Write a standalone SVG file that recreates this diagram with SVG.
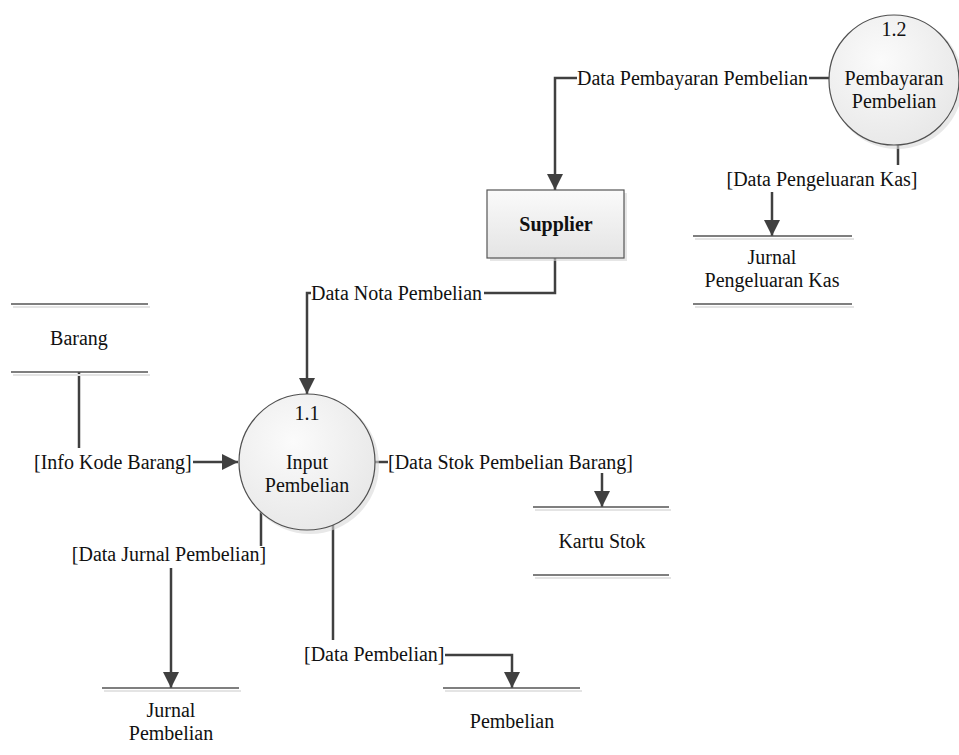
<svg xmlns="http://www.w3.org/2000/svg" width="959" height="755" viewBox="0 0 959 755" font-family="'Liberation Serif', 'DejaVu Serif', serif">
<style>
  text { font-family: 'Liberation Serif', 'DejaVu Serif', serif; font-size: 20px; fill: #111; }
  .mid { text-anchor: middle; }
  .bold { font-weight: bold; }
  .conn { fill: none; stroke: #404040; stroke-width: 2.5; }
  .arrow { marker-end: url(#ah); }
  .store { stroke: #555; stroke-width: 1.5; }
  .storeShadow { stroke: #e4e4e4; stroke-width: 2; }
  .proc { fill: url(#procFill); stroke: #505050; stroke-width: 1.2; }
  .shadow { fill: #d8d8d8; opacity: 0.6; }
</style>
<defs>
  <marker id="ah" markerUnits="userSpaceOnUse" viewBox="0 0 16 16" markerWidth="16" markerHeight="16" refX="16" refY="8" orient="auto">
    <path d="M0,0 L16,8 L0,16 z" fill="#404040"/>
  </marker>
  <radialGradient id="procFill" cx="0.4" cy="0.35" r="0.75">
    <stop offset="0" stop-color="#fbfbfb"/>
    <stop offset="1" stop-color="#e6e6e6"/>
  </radialGradient>
  <linearGradient id="boxFill" x1="0" y1="0" x2="0" y2="1">
    <stop offset="0" stop-color="#fafafa"/>
    <stop offset="1" stop-color="#e4e4e4"/>
  </linearGradient>
</defs>

<g id="connectors">
  <path class="conn" d="M829,78 L809,78"/>
  <path class="conn arrow" d="M577,78 L555,78 L555,190"/>
  <text x="577" y="85">Data Pembayaran Pembelian</text>
  <path class="conn" d="M898,145 L898,165"/>
  <text class="mid" x="822" y="186">[Data Pengeluaran Kas]</text>
  <path class="conn arrow" d="M772,192 L772,236"/>
  <path class="conn" d="M555,258 L555,293 L484,293"/>
  <path class="conn arrow" d="M311,293 L307,293 L307,394"/>
  <text x="311" y="300">Data Nota Pembelian</text>
  <path class="conn" d="M79,372 L79,448"/>
  <text x="34" y="469">[Info Kode Barang]</text>
  <path class="conn arrow" d="M193,462 L238,462"/>
  <path class="conn" d="M375,462 L388,462"/>
  <text x="388" y="469">[Data Stok Pembelian Barang]</text>
  <path class="conn arrow" d="M602,473 L602,507"/>
  <path class="conn" d="M261,512 L261,546"/>
  <text class="mid" x="169" y="561">[Data Jurnal Pembelian]</text>
  <path class="conn arrow" d="M171,568 L171,688"/>
  <path class="conn" d="M333,525 L333,640"/>
  <text x="304" y="661">[Data Pembelian]</text>
  <path class="conn arrow" d="M445,655 L512,655 L512,688"/>
</g>

<g id="proc-1-2">
  <circle class="shadow" cx="897" cy="83" r="66"/>
  <circle class="proc" cx="894" cy="80" r="65"/>
  <text class="mid" x="894" y="36">1.2</text>
  <text class="mid" x="894" y="85">Pembayaran</text>
  <text class="mid" x="894" y="108">Pembelian</text>
</g>

<g id="supplier">
  <rect x="490" y="193" width="137" height="68" fill="#d6d6d6" opacity="0.6"/>
  <rect x="487" y="190" width="137" height="68" fill="url(#boxFill)" stroke="#555" stroke-width="1.2"/>
  <text class="mid bold" x="556" y="231">Supplier</text>
</g>

<g id="jurnal-pengeluaran-kas">
  <line class="storeShadow" x1="695" y1="239" x2="854" y2="239"/>
  <line class="storeShadow" x1="695" y1="307" x2="854" y2="307"/>
  <line class="store" x1="693" y1="236" x2="852" y2="236"/>
  <line class="store" x1="693" y1="304" x2="852" y2="304"/>
  <text class="mid" x="772" y="264">Jurnal</text>
  <text class="mid" x="772" y="287">Pengeluaran Kas</text>
</g>

<g id="barang">
  <line class="storeShadow" x1="13" y1="307" x2="150" y2="307"/>
  <line class="storeShadow" x1="13" y1="375" x2="150" y2="375"/>
  <line class="store" x1="11" y1="304" x2="148" y2="304"/>
  <line class="store" x1="11" y1="372" x2="148" y2="372"/>
  <text class="mid" x="79" y="345">Barang</text>
</g>

<g id="proc-1-1">
  <circle class="shadow" cx="310" cy="465" r="69"/>
  <circle class="proc" cx="307" cy="462" r="68"/>
  <text class="mid" x="307" y="420">1.1</text>
  <text class="mid" x="307" y="469">Input</text>
  <text class="mid" x="307" y="492">Pembelian</text>
</g>

<g id="kartu-stok">
  <line class="storeShadow" x1="535" y1="510" x2="671" y2="510"/>
  <line class="storeShadow" x1="535" y1="578" x2="671" y2="578"/>
  <line class="store" x1="533" y1="507" x2="669" y2="507"/>
  <line class="store" x1="533" y1="575" x2="669" y2="575"/>
  <text class="mid" x="602" y="548">Kartu Stok</text>
</g>

<g id="jurnal-pembelian">
  <line class="storeShadow" x1="104" y1="691" x2="241" y2="691"/>
  <line class="store" x1="102" y1="688" x2="239" y2="688"/>
  <text class="mid" x="171" y="717">Jurnal</text>
  <text class="mid" x="171" y="740">Pembelian</text>
</g>

<g id="pembelian">
  <line class="storeShadow" x1="445" y1="691" x2="582" y2="691"/>
  <line class="store" x1="443" y1="688" x2="580" y2="688"/>
  <text class="mid" x="512" y="728">Pembelian</text>
</g>
</svg>
